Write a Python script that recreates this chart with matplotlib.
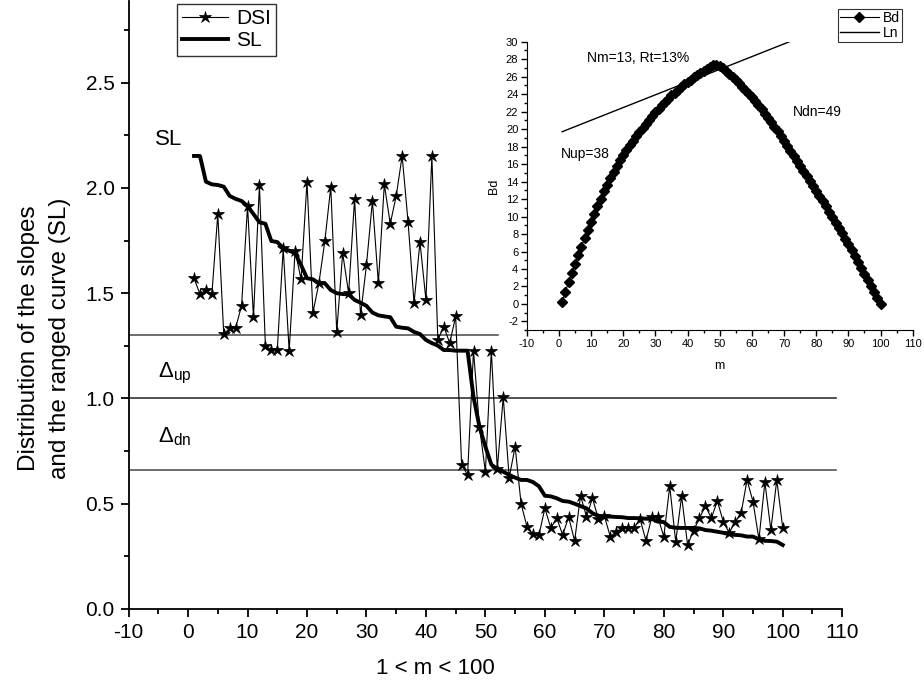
import matplotlib
matplotlib.use('Agg')
import matplotlib.pyplot as plt
from matplotlib.ticker import MultipleLocator

plt.rcParams['font.family'] = ['Liberation Sans', 'DejaVu Sans']
plt.rcParams['mathtext.fontset'] = 'custom'
plt.rcParams['mathtext.rm'] = 'Liberation Sans'
plt.rcParams['mathtext.it'] = 'Liberation Sans:italic'
plt.rcParams['axes.unicode_minus'] = False

# ---------------- data ----------------
m = list(range(1, 101))

dsi = [1.571, 1.496, 1.515, 1.495, 1.876, 1.306, 1.333, 1.336, 1.440, 1.914,
       1.386, 2.014, 1.251, 1.230, 1.230, 1.713, 1.227, 1.702, 1.566, 2.030,
       1.408, 1.547, 1.748, 2.006, 1.316, 1.690, 1.500, 1.948, 1.395, 1.634,
       1.938, 1.547, 2.017, 1.830, 1.962, 2.152, 1.837, 1.455, 1.743, 1.468,
       2.152, 1.278, 1.341, 1.263, 1.390, 0.686, 0.637, 1.227, 0.866, 0.652,
       1.227, 0.665, 1.007, 0.624, 0.771, 0.500, 0.390, 0.355, 0.350, 0.478,
       0.385, 0.431, 0.352, 0.437, 0.323, 0.538, 0.439, 0.526, 0.429, 0.442,
       0.344, 0.367, 0.383, 0.385, 0.385, 0.428, 0.324, 0.439, 0.436, 0.344,
       0.583, 0.320, 0.535, 0.304, 0.372, 0.432, 0.489, 0.432, 0.513, 0.415,
       0.362, 0.413, 0.455, 0.613, 0.510, 0.331, 0.603, 0.375, 0.613, 0.386]

sl = [2.152, 2.152, 2.030, 2.017, 2.014, 2.006, 1.962, 1.948, 1.938, 1.914,
      1.876, 1.837, 1.830, 1.748, 1.743, 1.713, 1.702, 1.690, 1.634, 1.571,
      1.566, 1.547, 1.547, 1.515, 1.500, 1.496, 1.495, 1.468, 1.455, 1.440,
      1.408, 1.395, 1.390, 1.386, 1.341, 1.336, 1.333, 1.316, 1.306, 1.278,
      1.263, 1.251, 1.230, 1.230, 1.227, 1.227, 1.227, 1.007, 0.866, 0.771,
      0.686, 0.665, 0.652, 0.637, 0.624, 0.613, 0.613, 0.603, 0.583, 0.538,
      0.535, 0.526, 0.513, 0.510, 0.500, 0.489, 0.478, 0.455, 0.442, 0.439,
      0.439, 0.437, 0.436, 0.432, 0.432, 0.431, 0.429, 0.428, 0.415, 0.413,
      0.390, 0.386, 0.385, 0.385, 0.385, 0.383, 0.375, 0.372, 0.367, 0.362,
      0.355, 0.352, 0.350, 0.344, 0.344, 0.331, 0.324, 0.323, 0.320, 0.304]

bd = [0.20, 1.35, 2.50, 3.53, 4.55, 5.56, 6.57, 7.53, 8.48, 9.42,
      10.33, 11.21, 12.05, 12.88, 13.62, 14.37, 15.08, 15.75, 16.42, 17.04,
      17.60, 18.14, 18.67, 19.18, 19.67, 20.15, 20.62, 21.07, 21.51, 21.94,
      22.35, 22.74, 23.12, 23.49, 23.85, 24.18, 24.50, 24.81, 25.11, 25.40,
      25.67, 25.93, 26.17, 26.41, 26.64, 26.87, 27.10, 27.33, 27.34, 27.20,
      26.98, 26.66, 26.33, 25.98, 25.62, 25.24, 24.86, 24.47, 24.07, 23.66,
      23.20, 22.73, 22.26, 21.77, 21.28, 20.78, 20.27, 19.75, 19.20, 18.65,
      18.09, 17.53, 16.96, 16.40, 15.83, 15.26, 14.69, 14.12, 13.55, 12.96,
      12.37, 11.76, 11.15, 10.53, 9.92, 9.30, 8.69, 8.07, 7.44, 6.81,
      6.12, 5.45, 4.78, 4.10, 3.42, 2.74, 2.06, 1.38, 0.69, 0.00]

ln_x = [1.0, 72.4]
ln_y = [19.7, 30.1]

level_up = 1.30
level_mid = 1.00
level_dn = 0.66

# ---------------- figure ----------------
fig = plt.figure(figsize=(9.24, 6.93), dpi=100)
W, H = 924.0, 693.0

ax = fig.add_axes([128.6 / W, 1 - 609 / H, 713.6 / W, 608.0 / H])
ax.set_xlim(-10, 110)
ax.set_ylim(0, 2.888)

# horizontal reference lines
ax.plot([-10, 52.1], [level_up, level_up], color='#555555', lw=1.2, zorder=1)
ax.plot([-10, 109.0], [level_mid, level_mid], color='#333333', lw=1.2, zorder=1)
ax.plot([-10, 109.0], [level_dn, level_dn], color='#555555', lw=1.2, zorder=1)

l1, = ax.plot(m, dsi, color='black', lw=0.8, marker='*', ms=9,
              markeredgewidth=0.5, label='DSI', zorder=3)
l2, = ax.plot(m, sl, color='black', lw=2.8, label='SL', zorder=2)

for s in ['top', 'right']:
    ax.spines[s].set_visible(False)
for s in ['left', 'bottom']:
    ax.spines[s].set_linewidth(1.3)

ax.xaxis.set_major_locator(MultipleLocator(10))
ax.xaxis.set_minor_locator(MultipleLocator(5))
ax.yaxis.set_minor_locator(MultipleLocator(0.25))
ax.set_yticks([0.0, 0.5, 1.0, 1.5, 2.0, 2.5])
ax.set_yticklabels(['0.0', '0.5', '1.0', '1.5', '2.0', '2.5'])
ax.tick_params(which='major', direction='out', length=6, width=1.3,
               labelsize=15, pad=4)
ax.tick_params(which='minor', direction='out', length=3.5, width=1.3)

ax.text(-5.6, 2.23, 'SL', fontsize=16, ha='left', va='center')
ax.text(-5.0, 1.12, r'$\mathregular{\Delta_{up}}$', fontsize=16, ha='left', va='center')
ax.text(-5.0, 0.82, r'$\mathregular{\Delta_{dn}}$', fontsize=16, ha='left', va='center')

fig.text(435 / W, 1 - 668 / H, '1 < m < 100', fontsize=16, ha='center', va='center')
fig.text(29 / W, 1 - 338 / H, 'Distribution of the slopes', fontsize=17.5,
         rotation=90, ha='center', va='center')
fig.text(60 / W, 1 - 338 / H, 'and the ranged curve (SL)', fontsize=17.5,
         rotation=90, ha='center', va='center')

leg = ax.legend(handles=[l1, l2], loc='upper right',
                bbox_to_anchor=(276 / W, 1 - 4 / H), bbox_transform=fig.transFigure,
                fontsize=15, frameon=True, fancybox=False, borderpad=0.25,
                handlelength=2.2, handletextpad=0.4, labelspacing=0.15,
                borderaxespad=0)
leg.get_frame().set_edgecolor('black')
leg.get_frame().set_linewidth(1.0)

# ---------------- inset ----------------
axi = fig.add_axes([526.7 / W, 1 - 330.2 / H, 386.0 / W, 288.5 / H])
axi.set_xlim(-10, 110)
axi.set_ylim(-3, 30)
b1, = axi.plot(m, bd, color='black', lw=0.8, marker='D', ms=5, label='Bd')
b2, = axi.plot(ln_x, ln_y, color='black', lw=1.0, label='Ln')
for s in ['top', 'right']:
    axi.spines[s].set_visible(False)
axi.xaxis.set_major_locator(MultipleLocator(10))
axi.xaxis.set_minor_locator(MultipleLocator(5))
axi.yaxis.set_major_locator(MultipleLocator(2))
axi.yaxis.set_minor_locator(MultipleLocator(1))
axi.tick_params(which='major', direction='out', length=4, width=1.0,
                labelsize=8, pad=2)
axi.tick_params(which='minor', direction='out', length=2, width=1.0)
axi.set_xlabel('m', fontsize=9, labelpad=8)
axi.set_ylabel('Bd', fontsize=9, labelpad=4)

axi.text(8.7, 28.1, 'Nm=13, Rt=13%', fontsize=10, ha='left', va='center')
axi.text(72.9, 22.0, 'Ndn=49', fontsize=10, ha='left', va='center')
axi.text(0.7, 17.2, 'Nup=38', fontsize=10, ha='left', va='center')

leg2 = axi.legend(handles=[b1, b2], loc='upper right',
                  bbox_to_anchor=(902 / W, 1 - 9 / H), bbox_transform=fig.transFigure,
                  fontsize=10, frameon=True, fancybox=False, borderpad=0.15,
                  handlelength=2.8, handletextpad=0.3, labelspacing=0.05,
                  borderaxespad=0)
leg2.get_frame().set_edgecolor('black')
leg2.get_frame().set_linewidth(0.8)

fig.savefig('out.png', dpi=100)
